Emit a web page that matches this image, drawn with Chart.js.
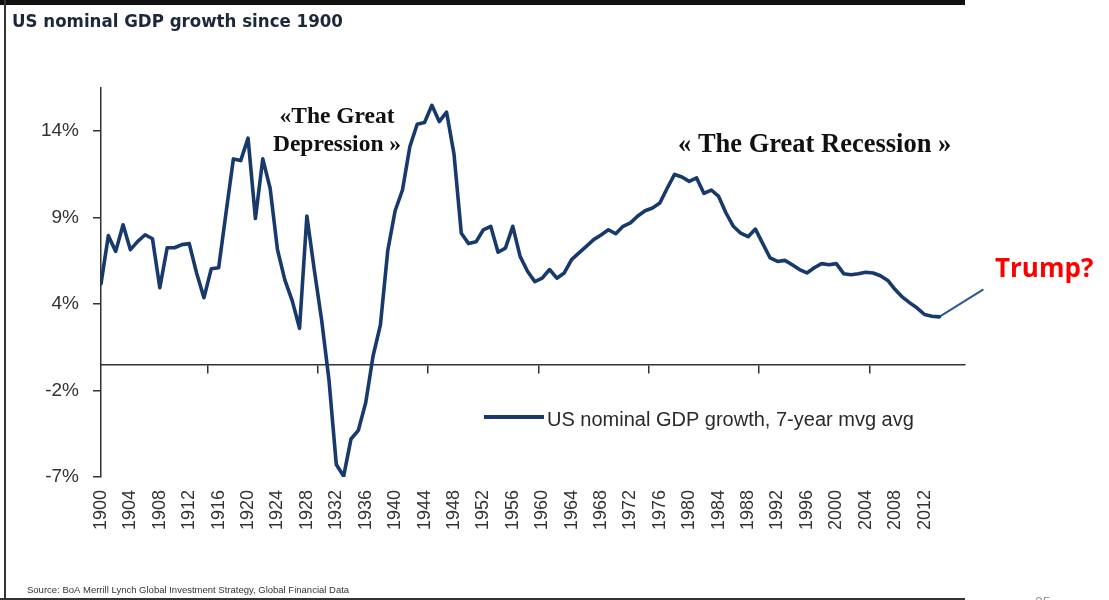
<!DOCTYPE html>
<html>
<head>
<meta charset="utf-8">
<title>US nominal GDP growth since 1900</title>
<script src="https://cdn.jsdelivr.net/npm/chart.js@4.4.1/dist/chart.umd.min.js"></script>
<style>
  html, body { margin: 0; padding: 0; background: #ffffff; }
  #wrap { position: relative; width: 1109px; height: 600px; }
  canvas { display: block; }
</style>
</head>
<body>
<div id="wrap"><canvas id="gdp" width="1109" height="600"></canvas></div>
<script>
// Years covered by the series
const years = [
  1900,1901,1902,1903,1904,1905,1906,1907,1908,1909,
  1910,1911,1912,1913,1914,1915,1916,1917,1918,1919,
  1920,1921,1922,1923,1924,1925,1926,1927,1928,1929,
  1930,1931,1932,1933,1934,1935,1936,1937,1938,1939,
  1940,1941,1942,1943,1944,1945,1946,1947,1948,1949,
  1950,1951,1952,1953,1954,1955,1956,1957,1958,1959,
  1960,1961,1962,1963,1964,1965,1966,1967,1968,1969,
  1970,1971,1972,1973,1974,1975,1976,1977,1978,1979,
  1980,1981,1982,1983,1984,1985,1986,1987,1988,1989,
  1990,1991,1992,1993,1994,1995,1996,1997,1998,1999,
  2000,2001,2002,2003,2004,2005,2006,2007,2008,2009,
  2010,2011,2012,2013,2014
];

// US nominal GDP growth, 7-year moving average (%)
const gdpGrowth = [
  4.68, 7.46, 6.55, 8.09, 6.65, 7.13, 7.51, 7.28, 4.45, 6.76,
  6.76, 6.94, 7.00, 5.30, 3.87, 5.55, 5.60, 8.77, 11.90, 11.80,
  13.10, 8.45, 11.90, 10.20, 6.65, 4.90, 3.70, 2.10, 8.60, 5.50,
  2.60, -0.87, -5.78, -6.45, -4.30, -3.80, -2.20, 0.50, 2.30, 6.60,
  8.90, 10.10, 12.60, 13.90, 14.00, 15.00, 14.06, 14.60, 12.20, 7.60,
  7.00, 7.10, 7.80, 8.00, 6.50, 6.74, 8.00, 6.26, 5.40, 4.80,
  5.00, 5.50, 5.00, 5.30, 6.07, 6.46, 6.84, 7.23, 7.50, 7.80,
  7.57, 8.00, 8.20, 8.60, 8.90, 9.06, 9.35, 10.20, 11.00, 10.85,
  10.60, 10.80, 9.90, 10.10, 9.73, 8.77, 8.00, 7.60, 7.40, 7.84,
  7.00, 6.17, 5.97, 6.03, 5.78, 5.50, 5.30, 5.60, 5.84, 5.78,
  5.84, 5.26, 5.20, 5.26, 5.34, 5.30, 5.14, 4.87, 4.34, 3.90,
  3.57, 3.27, 2.90, 2.80, 2.76
];

// The hand-drawn "Trump?" continuation
const outlookYears = [2014, 2020];
const outlookValues = [2.76, 4.35];

// Axis ticks and labels
const yTickValues = [-6.5, -1.5, 3.5, 8.5, 13.5];
const yTickLabels = ['-7%', '-2%', '4%', '9%', '14%'];
const xLabelYears = [1900,1904,1908,1912,1916,1920,1924,1928,1932,1936,1940,1944,1948,
                     1952,1956,1960,1964,1968,1972,1976,1980,1984,1988,1992,1996,2000,
                     2004,2008,2012];
const zeroLineMarks = [1914.5, 1929.5, 1944.5, 1959.5, 1974.5, 1989.5, 2004.5];

const NAVY = '#18396c';
const AXIS = '#333333';
const SANS = '"Liberation Sans", Arial, sans-serif';
const SERIF = '"Liberation Serif", "Times New Roman", serif';

// Frame, headings, notes and legend drawn around the plot
const decor = {
  id: 'decor',
  afterDraw(chart) {
    const ctx = chart.ctx;
    ctx.save();

    // slide frame
    ctx.fillStyle = '#111111';
    ctx.fillRect(0, 0, 965, 5);
    ctx.fillStyle = '#333333';
    ctx.fillRect(4, 0, 2, 600);
    ctx.fillRect(0, 598, 965, 2);

    // title
    ctx.fillStyle = '#1c2838';
    ctx.font = 'bold 18.5px "DejaVu Sans Condensed", "DejaVu Sans", sans-serif';
    ctx.textAlign = 'left';
    ctx.textBaseline = 'alphabetic';
    ctx.fillText('US nominal GDP growth since 1900', 12, 27);

    // period notes
    ctx.fillStyle = '#111111';
    ctx.font = 'bold 23.5px ' + SERIF;
    ctx.textAlign = 'center';
    ctx.fillText('\u00abThe Great', 337, 123);
    ctx.fillText('Depression \u00bb', 337, 151);
    ctx.font = 'bold 26.5px ' + SERIF;
    ctx.textAlign = 'left';
    ctx.fillText('\u00ab The Great Recession \u00bb', 678, 152);

    // legend
    const ds = chart.data.datasets[0];
    ctx.strokeStyle = ds.borderColor;
    ctx.lineWidth = 4;
    ctx.beginPath();
    ctx.moveTo(484, 417);
    ctx.lineTo(544, 417);
    ctx.stroke();
    ctx.fillStyle = '#2a2a2a';
    ctx.font = '20px ' + SANS;
    ctx.fillText(ds.label, 547, 426);

    // source
    ctx.fillStyle = '#333333';
    ctx.font = '9.5px ' + SANS;
    ctx.fillText('Source: BoA Merrill Lynch Global Investment Strategy, Global Financial Data', 27, 593);

    // question mark note
    ctx.fillStyle = '#ff0000';
    ctx.font = 'bold 26px "Open Sans", Lato, sans-serif';
    ctx.fillText('Trump?', 995, 277);

    // page number
    ctx.fillStyle = '#9a9a9a';
    ctx.font = '14px ' + SANS;
    ctx.fillText('25', 1035, 607);

    ctx.restore();
  }
};

new Chart(document.getElementById('gdp'), {
  type: 'line',
  data: {
    datasets: [
      {
        label: 'US nominal GDP growth, 7-year mvg avg',
        data: years.map((y, i) => ({ x: y, y: gdpGrowth[i] })),
        borderColor: NAVY,
        borderWidth: 3.6,
        pointRadius: 0,
        tension: 0,
        borderJoinStyle: 'round',
        borderCapStyle: 'round',
        xAxisID: 'x',
        yAxisID: 'y'
      },
      {
        label: 'Trump?',
        data: outlookYears.map((y, i) => ({ x: y, y: outlookValues[i] })),
        borderColor: '#2c5a8e',
        borderWidth: 2,
        pointRadius: 0,
        tension: 0,
        clip: false,
        xAxisID: 'x',
        yAxisID: 'y'
      }
    ]
  },
  options: {
    responsive: false,
    animation: false,
    devicePixelRatio: 1,
    layout: { padding: { left: 0, top: 88, right: 144, bottom: 0 } },
    plugins: {
      legend: { display: false },
      title: { display: false },
      tooltip: { enabled: false }
    },
    scales: {
      x: {
        type: 'linear',
        position: 'bottom',
        min: 1900,
        max: 2017.5,
        afterFit(s) { s.height = 123; },
        afterBuildTicks(s) { s.ticks = xLabelYears.map(v => ({ value: v })); },
        grid: { display: false, drawTicks: false },
        border: { display: false },
        ticks: {
          autoSkip: false,
          minRotation: 90,
          maxRotation: 90,
          padding: 13,
          color: AXIS,
          font: { family: SANS, size: 18 },
          callback: v => String(v)
        }
      },
      zero: {
        type: 'linear',
        axis: 'x',
        position: { y: 0 },
        min: 1900,
        max: 2017.5,
        afterFit(s) { s.height = 0; },
        afterBuildTicks(s) { s.ticks = zeroLineMarks.map(v => ({ value: v })); },
        grid: { drawOnChartArea: false, drawTicks: true, tickLength: 8, color: AXIS, lineWidth: 1.5 },
        border: { display: true, color: AXIS, width: 1.5 },
        ticks: { display: false }
      },
      y: {
        type: 'linear',
        position: 'left',
        min: -6.5,
        max: 16,
        afterFit(s) { s.width = 101; },
        afterBuildTicks(s) { s.ticks = yTickValues.map(v => ({ value: v })); },
        grid: { drawOnChartArea: false, drawTicks: true, tickLength: 8, color: AXIS, lineWidth: 1.5 },
        border: { display: true, color: AXIS, width: 1.5 },
        ticks: {
          padding: 14,
          color: AXIS,
          font: { family: SANS, size: 19 },
          callback: v => yTickLabels[yTickValues.indexOf(v)]
        }
      }
    }
  },
  plugins: [decor]
});
</script>
</body>
</html>
